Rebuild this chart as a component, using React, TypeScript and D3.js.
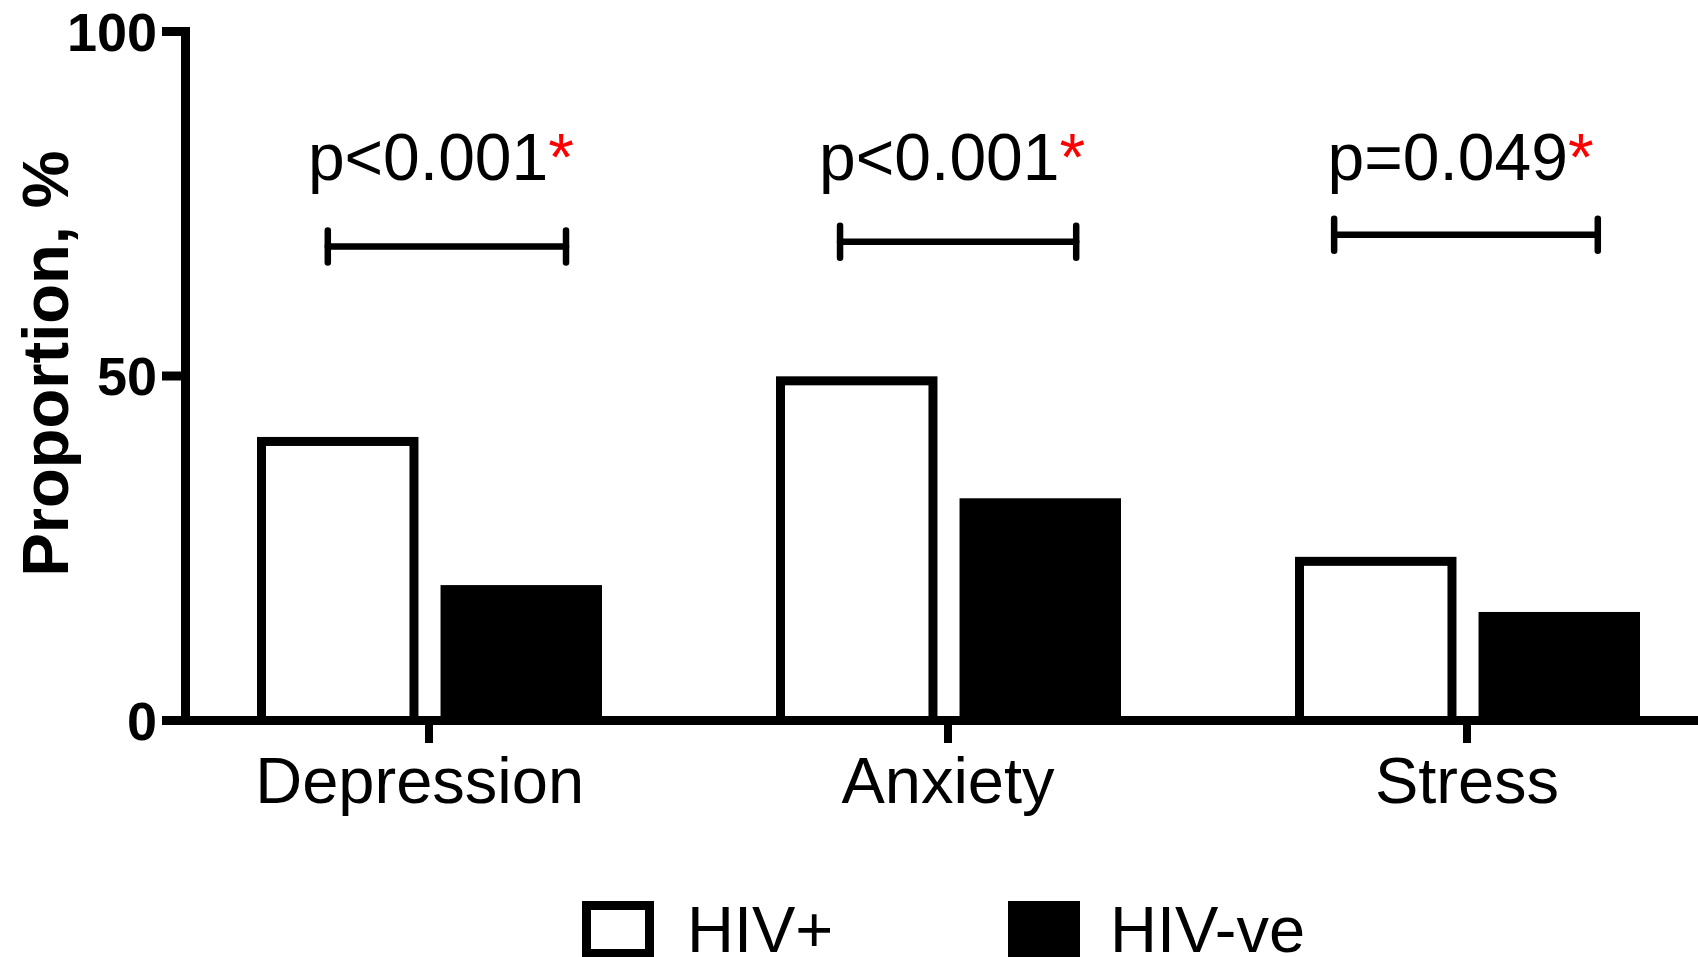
import React from "react";
import * as d3 from "d3";

const categories = ["Depression", "Anxiety", "Stress"];
const groups = ["HIV+", "HIV-ve"];
const hivPos = [40.5, 49.3, 23.1];
const hivNeg = [19.0, 31.6, 15.1];
const yTicks = [0, 50, 100];
const pLabels = ["p<0.001", "p<0.001", "p=0.049"];
// bracket extents in category-index units, bracket height in % units
const bracketLeft = [-0.195, 0.792, 1.744];
const bracketRight = [0.264, 1.247, 2.252];
const bracketLevel = [68.8, 69.5, 70.5];
const pLabelLevel = 78.4;
const pLabelShift = [0.023, 0.008, -0.0125];
const catLabelShift = [-0.018, 0, 0];

const W = 1698;
const H = 957;
const FONT = "'Liberation Sans', Arial, Helvetica, sans-serif";

export default function App() {
  const y = d3.scaleLinear().domain([0, 100]).range([720.5, 31.5]);
  const x0 = d3.scaleBand<string>().domain(categories).range([169.5, 1726.5]).padding(0);
  const xi = d3.scaleLinear().domain([0, 2]).range([429, 1467]);
  const x1 = d3.scaleBand<string>().domain(groups).range([-172, 173]).paddingInner(22 / 183).paddingOuter(0);
  const sw = 9;
  const axisX = 185.5;
  const y0 = y(0);
  const cx = (c: string) => (x0(c) as number) + x0.bandwidth() / 2;
  const series = [hivPos, hivNeg];

  return (
    <svg width={W} height={H} style={{ position: "absolute", left: 0, top: 0, display: "block", background: "#fff" }}>
      {/* bars */}
      {categories.map((c, i) =>
        groups.map((g, gi) => {
          const v = series[gi][i];
          const bx = cx(c) + (x1(g) as number) + sw / 2;
          return (
            <rect
              key={c + g}
              x={bx}
              y={y(v)}
              width={x1.bandwidth() - sw}
              height={y0 - y(v)}
              fill={gi === 0 ? "#fff" : "#000"}
              stroke="#000"
              strokeWidth={sw}
            />
          );
        })
      )}
      {/* y axis */}
      <line x1={axisX} x2={axisX} y1={y(100) - 4.5} y2={y0 + 4.5} stroke="#000" strokeWidth={sw} />
      {yTicks.map((t) => (
        <g key={t}>
          <line x1={162} x2={axisX} y1={y(t)} y2={y(t)} stroke="#000" strokeWidth={sw} />
          <text
            x={157}
            y={y(t)}
            dy="0.36em"
            textAnchor="end"
            fontFamily={FONT}
            fontWeight="bold"
            fontSize={54}
            fill="#000"
          >
            {t}
          </text>
        </g>
      ))}
      {/* x axis */}
      <line x1={162} x2={W} y1={y0} y2={y0} stroke="#000" strokeWidth={sw} />
      {categories.map((c, i) => (
        <g key={c}>
          <line x1={cx(c)} x2={cx(c)} y1={y0} y2={743} stroke="#000" strokeWidth={8} />
          <text
            x={xi(i + catLabelShift[i])}
            y={803}
            textAnchor="middle"
            fontFamily={FONT}
            fontSize={65}
            fill="#000"
          >
            {c}
          </text>
        </g>
      ))}
      {/* y title */}
      <text
        transform={`translate(68, 363.5) rotate(-90)`}
        textAnchor="middle"
        fontFamily={FONT}
        fontWeight="bold"
        fontSize={65}
        fill="#000"
      >
        Proportion, %
      </text>
      {/* significance brackets */}
      {categories.map((c, i) => {
        const l = xi(bracketLeft[i]);
        const r = xi(bracketRight[i]);
        const by = y(bracketLevel[i]);
        return (
          <g key={"b" + c} stroke="#000" strokeWidth={6.5} strokeLinecap="round">
            <line x1={l} x2={r} y1={by} y2={by} />
            <line x1={l} x2={l} y1={by - 16} y2={by + 16} />
            <line x1={r} x2={r} y1={by - 16} y2={by + 16} />
          </g>
        );
      })}
      {categories.map((c, i) => (
        <text
          key={"p" + c}
          x={xi(i + pLabelShift[i])}
          y={y(pLabelLevel)}
          textAnchor="middle"
          fontFamily={FONT}
          fontSize={66}
          fill="#000"
        >
          {pLabels[i]}
          <tspan fill="#ff0000">*</tspan>
        </text>
      ))}
      {/* legend */}
      <rect x={586.5} y={905.5} width={63} height={48} fill="#fff" stroke="#000" strokeWidth={sw} />
      <text x={687} y={952} fontFamily={FONT} fontSize={65} fill="#000">
        {groups[0]}
      </text>
      <rect x={1012.5} y={905.5} width={63} height={48} fill="#000" stroke="#000" strokeWidth={sw} />
      <text x={1110} y={952} fontFamily={FONT} fontSize={65} fill="#000">
        {groups[1]}
      </text>
    </svg>
  );
}
